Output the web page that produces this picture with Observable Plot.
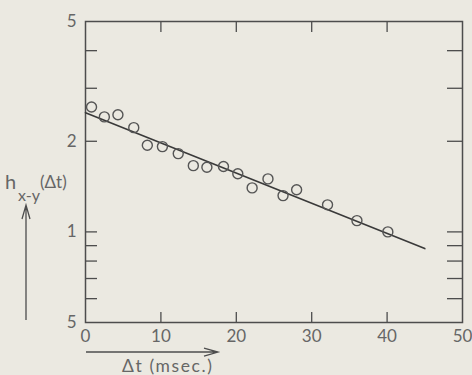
<!DOCTYPE html>
<html>
<head>
<meta charset="utf-8">
<script src="https://cdn.jsdelivr.net/npm/d3@7"></script>
<script src="https://cdn.jsdelivr.net/npm/@observablehq/plot@0.6"></script>
<style>
  html, body { margin: 0; padding: 0; background: #ebe9e1; }
  #chart svg { display: block; }
</style>
</head>
<body>
<div id="chart"></div>
<script>
// Measured points: Δt (msec) and h_{x-y}(Δt)
const dt = [0.8, 2.5, 4.3, 6.4, 8.2, 10.2, 12.3, 14.3, 16.1, 18.3, 20.2, 22.1, 24.2, 26.2, 28.0, 32.1, 36.0, 40.1];
const hxy = [2.60, 2.41, 2.45, 2.22, 1.94, 1.92, 1.82, 1.66, 1.64, 1.65, 1.56, 1.40, 1.50, 1.32, 1.38, 1.23, 1.09, 1.00];
// Fitted straight line (on log scale)
const fitDt = [0, 45];
const fitH = [2.49, 0.88];
// Axis ticks
const xTickLabels = [0, 10, 20, 30, 40, 50];
const xMinorTicks = [10, 20, 30, 40];
const yTickLabels = [0.5, 1, 2, 5];
const yMinorTicks = [0.6, 0.7, 0.8, 0.9, 1, 2, 3, 4];

const points = dt.map((d, i) => ({t: d, h: hxy[i]}));
const fit = fitDt.map((d, i) => ({t: d, h: fitH[i]}));

const ink = "#4d4d4d";
const textInk = "#666666";
const font = "Lato, 'Liberation Sans', sans-serif";

function labels(index, scales, values, dim) {
  const g = d3.create("svg:g")
    .attr("fill", textInk)
    .attr("font-family", font)
    .attr("text-anchor", "start");
  const L = dim.marginLeft, B = dim.height - dim.marginBottom;
  // y label
  g.append("text").attr("x", 5).attr("y", 189).attr("font-size", 20).text("h");
  g.append("text").attr("x", 18).attr("y", 201).attr("font-size", 16).text("x-y");
  g.append("text").attr("x", 40).attr("y", 188).attr("font-size", 17).text("(Δt)");
  // y arrow
  const ax = 26, ay1 = B - 2, ay2 = 205;
  g.append("path")
    .attr("d", `M${ax},${ay1}V${ay2}M${ax - 4},${ay2 + 14}L${ax},${ay2}L${ax + 4},${ay2 + 14}`)
    .attr("fill", "none").attr("stroke", ink).attr("stroke-width", 1.3);
  // x arrow
  const by = B + 30, bx1 = L + 1, bx2 = L + 133;
  g.append("path")
    .attr("d", `M${bx1},${by}H${bx2}M${bx2 - 14},${by - 4}L${bx2},${by}L${bx2 - 14},${by + 4}`)
    .attr("fill", "none").attr("stroke", ink).attr("stroke-width", 1.3);
  g.append("text").attr("x", L + 37).attr("y", B + 50).attr("font-size", 17.5)
    .attr("letter-spacing", 1.6).text("Δt (msec.)");
  return g.node();
}

const chart = Plot.plot({
  width: 472,
  height: 375,
  marginLeft: 85,
  marginRight: 10,
  marginTop: 21,
  marginBottom: 53,
  style: {background: "#ebe9e1", color: textInk, fontFamily: font, fontSize: "17px"},
  x: {domain: [0, 50]},
  y: {type: "log", domain: [0.5, 5]},
  marks: [
    Plot.frame({stroke: ink, strokeWidth: 1.5}),
    Plot.axisY({anchor: "left", ticks: yMinorTicks, tickSize: -12, tickFormat: () => "", stroke: ink, strokeWidth: 1.3, label: null}),
    Plot.axisY({anchor: "right", ticks: yMinorTicks, tickSize: -16, tickFormat: () => "", stroke: ink, strokeWidth: 1.3, label: null}),
    Plot.axisY({anchor: "left", ticks: yTickLabels, tickSize: 0, tickPadding: 9, tickFormat: d => d === 0.5 ? "5" : String(d), label: null, fill: textInk}),
    Plot.axisX({anchor: "bottom", ticks: xMinorTicks, tickSize: -10, tickFormat: () => "", stroke: ink, strokeWidth: 1.3, label: null}),
    Plot.axisX({anchor: "top", ticks: xMinorTicks, tickSize: -10, tickFormat: () => "", stroke: ink, strokeWidth: 1.3, label: null}),
    Plot.axisX({anchor: "bottom", ticks: xTickLabels, tickSize: 0, tickPadding: 7, label: null, fill: textInk}),
    Plot.line(fit, {x: "t", y: "h", stroke: "#3a3a3a", strokeWidth: 1.6}),
    Plot.dot(points, {x: "t", y: "h", r: 5, stroke: "#555", strokeWidth: 1.4, fill: "none"}),
    labels
  ]
});
document.getElementById("chart").appendChild(chart);
</script>
</body>
</html>
